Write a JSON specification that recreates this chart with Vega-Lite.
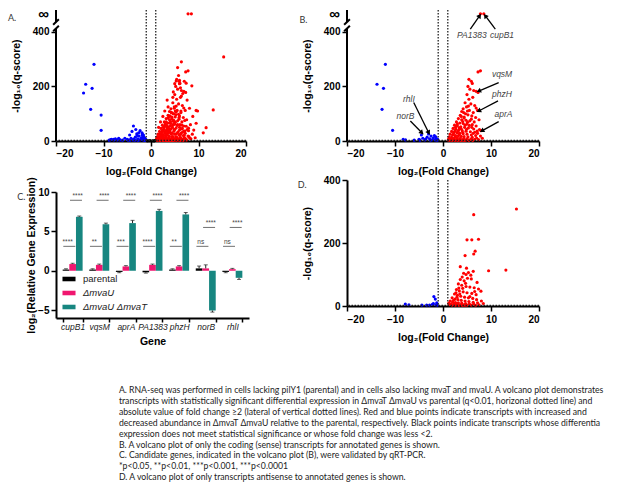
{
"$schema": "https://vega.github.io/schema/vega-lite/v6.json",
"padding": {"left": 7, "top": 6, "right": 0, "bottom": 0},
"config": {
  "view": {"stroke": null},
  "font": "Liberation Sans",
  "axis": {"domainColor": "#000", "domainWidth": 2, "tickColor": "#000", "tickWidth": 1.5, "tickSize": 5, "labelFont": "Liberation Sans", "labelFontWeight": "bold", "labelFontSize": 10, "labelColor": "#000", "titleFont": "Liberation Sans", "titleFontWeight": "bold", "titleFontSize": 10.5, "titleColor": "#000", "grid": false, "labelPadding": 2}
},
"datasets": {
  "volcano": [
    {"fc": 7.8, "q": 466, "t": "s"}, {"fc": 8.5, "q": 466, "t": "s"},
    {"fc": 7.8, "q": 257, "t": "s"}, {"fc": 7.3, "q": 253, "t": "s"}, {"fc": 5.4, "q": 226, "t": "s"}, {"fc": 5.9, "q": 219, "t": "s"}, {"fc": 6.1, "q": 211, "t": "s"}, {"fc": 5.2, "q": 200, "t": "s"}, {"fc": 5.6, "q": 190, "t": "s"}, {"fc": 6.4, "q": 185, "t": "s"}, {"fc": 6.9, "q": 182, "t": "s"}, {"fc": 7.3, "q": 178, "t": "s"}, {"fc": 5.0, "q": 170, "t": "s"}, {"fc": 5.4, "q": 153, "t": "s"}, {"fc": 6.2, "q": 160, "t": "s"}, {"fc": 6.6, "q": 130, "t": "s"}, {"fc": 6.9, "q": 121, "t": "s"}, {"fc": 7.2, "q": 112, "t": "s"}, {"fc": 4.6, "q": 140, "t": "s"}, {"fc": 5.8, "q": 136, "t": "s"}, {"fc": 4.9, "q": 125, "t": "s"}, {"fc": 4.2, "q": 118, "t": "s"}, {"fc": 5.5, "q": 112, "t": "s"}, {"fc": 6.3, "q": 104, "t": "s"}, {"fc": 3.9, "q": 108, "t": "s"}, {"fc": 4.7, "q": 100, "t": "s"}, {"fc": 5.2, "q": 96, "t": "s"}, {"fc": 3.6, "q": 94, "t": "s"}, {"fc": 4.4, "q": 88, "t": "s"}, {"fc": 6.0, "q": 92, "t": "s"}, {"fc": 6.8, "q": 86, "t": "s"}, {"fc": 7.5, "q": 78, "t": "s"}, {"fc": 3.2, "q": 82, "t": "s"}, {"fc": 3.9, "q": 78, "t": "s"}, {"fc": 4.8, "q": 76, "t": "s"}, {"fc": 5.6, "q": 74, "t": "s"}, {"fc": 2.8, "q": 70, "t": "s"}, {"fc": 3.5, "q": 66, "t": "s"}, {"fc": 4.2, "q": 64, "t": "s"}, {"fc": 5.0, "q": 62, "t": "s"}, {"fc": 6.1, "q": 60, "t": "s"}, {"fc": 6.9, "q": 55, "t": "s"}, {"fc": 2.4, "q": 58, "t": "s"}, {"fc": 3.0, "q": 55, "t": "s"}, {"fc": 3.7, "q": 52, "t": "s"}, {"fc": 4.5, "q": 50, "t": "s"}, {"fc": 5.3, "q": 48, "t": "s"}, {"fc": 6.4, "q": 44, "t": "s"}, {"fc": 7.6, "q": 42, "t": "s"}, {"fc": 7.9, "q": 38, "t": "s"}, {"fc": 2.1, "q": 46, "t": "s"}, {"fc": 2.7, "q": 43, "t": "s"}, {"fc": 3.3, "q": 40, "t": "s"}, {"fc": 4.0, "q": 38, "t": "s"}, {"fc": 4.8, "q": 36, "t": "s"}, {"fc": 5.7, "q": 34, "t": "s"}, {"fc": 6.6, "q": 32, "t": "s"}, {"fc": 7.2, "q": 28, "t": "s"}, {"fc": 1.8, "q": 35, "t": "s"}, {"fc": 2.3, "q": 32, "t": "s"}, {"fc": 2.9, "q": 30, "t": "s"}, {"fc": 3.5, "q": 28, "t": "s"}, {"fc": 4.2, "q": 27, "t": "s"}, {"fc": 5.0, "q": 25, "t": "s"}, {"fc": 5.9, "q": 22, "t": "s"}, {"fc": 6.8, "q": 20, "t": "s"}, {"fc": 7.8, "q": 18, "t": "s"}, {"fc": 1.5, "q": 25, "t": "s"}, {"fc": 2.0, "q": 22, "t": "s"}, {"fc": 2.6, "q": 20, "t": "s"}, {"fc": 3.2, "q": 19, "t": "s"}, {"fc": 3.8, "q": 17, "t": "s"}, {"fc": 4.4, "q": 16, "t": "s"}, {"fc": 5.2, "q": 15, "t": "s"}, {"fc": 6.1, "q": 13, "t": "s"}, {"fc": 7.0, "q": 11, "t": "s"}, {"fc": 8.2, "q": 10, "t": "s"}, {"fc": 1.3, "q": 15, "t": "s"}, {"fc": 1.8, "q": 13, "t": "s"}, {"fc": 2.4, "q": 12, "t": "s"}, {"fc": 3.0, "q": 11, "t": "s"}, {"fc": 3.6, "q": 10, "t": "s"}, {"fc": 4.3, "q": 9, "t": "s"}, {"fc": 5.0, "q": 8, "t": "s"}, {"fc": 5.8, "q": 7, "t": "s"}, {"fc": 6.6, "q": 6, "t": "s"}, {"fc": 7.4, "q": 5, "t": "s"}, {"fc": 1.2, "q": 8, "t": "s"}, {"fc": 1.6, "q": 6, "t": "s"}, {"fc": 2.2, "q": 5, "t": "s"}, {"fc": 2.8, "q": 4, "t": "s"}, {"fc": 3.4, "q": 4, "t": "s"}, {"fc": 4.0, "q": 3, "t": "s"}, {"fc": 4.7, "q": 3, "t": "s"}, {"fc": 5.4, "q": 2.5, "t": "s"}, {"fc": 6.2, "q": 2.5, "t": "s"}, {"fc": 1.4, "q": 3, "t": "s"}, {"fc": 1.9, "q": 2.5, "t": "s"}, {"fc": 2.5, "q": 2.5, "t": "s"}, {"fc": 3.1, "q": 2.5, "t": "s"}, {"fc": 3.7, "q": 2.5, "t": "s"}, {"fc": 4.4, "q": 2.5, "t": "s"}, {"fc": 1.1, "q": 4, "t": "s"}, {"fc": 2.0, "q": 9, "t": "s"}, {"fc": 2.6, "q": 16, "t": "s"}, {"fc": 3.4, "q": 24, "t": "s"}, {"fc": 4.1, "q": 31, "t": "s"}, {"fc": 4.9, "q": 43, "t": "s"}, {"fc": 5.5, "q": 57, "t": "s"}, {"fc": 2.2, "q": 27, "t": "s"}, {"fc": 3.1, "q": 35, "t": "s"}, {"fc": 3.8, "q": 45, "t": "s"}, {"fc": 4.6, "q": 58, "t": "s"}, {"fc": 5.1, "q": 69, "t": "s"}, {"fc": 5.9, "q": 80, "t": "s"}, {"fc": 2.5, "q": 38, "t": "s"}, {"fc": 3.4, "q": 48, "t": "s"}, {"fc": 4.1, "q": 71, "t": "s"}, {"fc": 4.4, "q": 84, "t": "s"}, {"fc": 3.0, "q": 62, "t": "s"}, {"fc": 5.3, "q": 128, "t": "s"}, {"fc": 4.3, "q": 104, "t": "s"}, {"fc": 5.1, "q": 110, "t": "s"}, {"fc": 6.5, "q": 70, "t": "s"}, {"fc": 6.0, "q": 50, "t": "s"}, {"fc": 6.3, "q": 28, "t": "s"}, {"fc": 7.1, "q": 36, "t": "s"}, {"fc": 3.8, "q": 90, "t": "s"}, {"fc": 2.6, "q": 50, "t": "s"},
    {"fc": -12.0, "q": 281, "t": "s"}, {"fc": -13.75, "q": 208, "t": "s"}, {"fc": -12.4, "q": 193, "t": "s"}, {"fc": -12.7, "q": 116, "t": "s"}, {"fc": -10.5, "q": 39, "t": "s"}, {"fc": -5.0, "q": 6, "t": "s"}, {"fc": -4.5, "q": 22, "t": "s"}, {"fc": -4.2, "q": 10, "t": "s"}, {"fc": -3.8, "q": 4, "t": "s"}, {"fc": -3.3, "q": 14, "t": "s"}, {"fc": -3.0, "q": 26, "t": "s"}, {"fc": -2.8, "q": 8, "t": "s"}, {"fc": -2.5, "q": 18, "t": "s"}, {"fc": -2.2, "q": 5, "t": "s"}, {"fc": -2.0, "q": 12, "t": "s"}, {"fc": -1.8, "q": 20, "t": "s"}, {"fc": -1.6, "q": 4, "t": "s"}, {"fc": -1.4, "q": 9, "t": "s"}, {"fc": -1.2, "q": 3, "t": "s"}, {"fc": -1.1, "q": 6, "t": "s"}, {"fc": -2.6, "q": 3, "t": "s"}, {"fc": -3.6, "q": 7, "t": "s"}, {"fc": -1.5, "q": 15, "t": "s"}, {"fc": -4.8, "q": 3, "t": "s"}, {"fc": -6.0, "q": 3, "t": "s"}, {"fc": -7.8, "q": 4, "t": "s"}, {"fc": -8.3, "q": 6, "t": "s"},
    {"fc": 15.3, "q": 308, "t": "a"}, {"fc": 6.4, "q": 290, "t": "a"}, {"fc": 5.0, "q": 210, "t": "a"}, {"fc": 6.0, "q": 210, "t": "a"}, {"fc": 7.4, "q": 212, "t": "a"}, {"fc": 6.7, "q": 174, "t": "a"}, {"fc": 6.4, "q": 165, "t": "a"}, {"fc": 4.6, "q": 160, "t": "a"}, {"fc": 9.5, "q": 112, "t": "a"}, {"fc": 13.1, "q": 114, "t": "a"}, {"fc": 3.6, "q": 125, "t": "a"}, {"fc": 4.3, "q": 104, "t": "a"}, {"fc": 4.8, "q": 100, "t": "a"}, {"fc": 5.3, "q": 106, "t": "a"}, {"fc": 5.8, "q": 98, "t": "a"}, {"fc": 6.3, "q": 110, "t": "a"}, {"fc": 4.0, "q": 92, "t": "a"}, {"fc": 5.1, "q": 88, "t": "a"}, {"fc": 5.9, "q": 86, "t": "a"}, {"fc": 7.1, "q": 75, "t": "a"}, {"fc": 4.4, "q": 80, "t": "a"}, {"fc": 3.2, "q": 70, "t": "a"}, {"fc": 3.9, "q": 66, "t": "a"}, {"fc": 4.8, "q": 62, "t": "a"}, {"fc": 5.6, "q": 60, "t": "a"}, {"fc": 6.5, "q": 58, "t": "a"}, {"fc": 7.4, "q": 54, "t": "a"}, {"fc": 7.9, "q": 47, "t": "a"}, {"fc": 2.8, "q": 52, "t": "a"}, {"fc": 3.4, "q": 48, "t": "a"}, {"fc": 4.2, "q": 45, "t": "a"}, {"fc": 5.0, "q": 42, "t": "a"}, {"fc": 6.0, "q": 40, "t": "a"}, {"fc": 6.9, "q": 36, "t": "a"}, {"fc": 2.4, "q": 38, "t": "a"}, {"fc": 3.0, "q": 34, "t": "a"}, {"fc": 3.7, "q": 31, "t": "a"}, {"fc": 4.5, "q": 28, "t": "a"}, {"fc": 5.3, "q": 26, "t": "a"}, {"fc": 6.2, "q": 24, "t": "a"}, {"fc": 7.0, "q": 20, "t": "a"}, {"fc": 8.0, "q": 16, "t": "a"}, {"fc": 1.9, "q": 26, "t": "a"}, {"fc": 2.5, "q": 22, "t": "a"}, {"fc": 3.1, "q": 20, "t": "a"}, {"fc": 3.8, "q": 18, "t": "a"}, {"fc": 4.6, "q": 16, "t": "a"}, {"fc": 5.4, "q": 14, "t": "a"}, {"fc": 6.3, "q": 12, "t": "a"}, {"fc": 7.2, "q": 10, "t": "a"}, {"fc": 8.4, "q": 8, "t": "a"}, {"fc": 1.5, "q": 16, "t": "a"}, {"fc": 2.0, "q": 13, "t": "a"}, {"fc": 2.6, "q": 11, "t": "a"}, {"fc": 3.2, "q": 10, "t": "a"}, {"fc": 3.9, "q": 9, "t": "a"}, {"fc": 4.7, "q": 8, "t": "a"}, {"fc": 5.5, "q": 7, "t": "a"}, {"fc": 6.4, "q": 6, "t": "a"}, {"fc": 7.5, "q": 4, "t": "a"}, {"fc": 1.2, "q": 9, "t": "a"}, {"fc": 1.7, "q": 7, "t": "a"}, {"fc": 2.3, "q": 6, "t": "a"}, {"fc": 2.9, "q": 5, "t": "a"}, {"fc": 3.5, "q": 4, "t": "a"}, {"fc": 4.2, "q": 3.5, "t": "a"}, {"fc": 5.0, "q": 3, "t": "a"}, {"fc": 5.9, "q": 3, "t": "a"}, {"fc": 6.8, "q": 2.5, "t": "a"}, {"fc": 1.3, "q": 4, "t": "a"}, {"fc": 1.9, "q": 3, "t": "a"}, {"fc": 2.6, "q": 2.5, "t": "a"}, {"fc": 3.3, "q": 2.5, "t": "a"}, {"fc": 4.0, "q": 2.5, "t": "a"}, {"fc": 4.6, "q": 2.5, "t": "a"}, {"fc": 2.2, "q": 18, "t": "a"}, {"fc": 2.9, "q": 28, "t": "a"}, {"fc": 3.5, "q": 38, "t": "a"}, {"fc": 4.1, "q": 56, "t": "a"}, {"fc": 3.3, "q": 57, "t": "a"}, {"fc": 4.7, "q": 72, "t": "a"}, {"fc": 2.7, "q": 42, "t": "a"}, {"fc": 5.6, "q": 30, "t": "a"}, {"fc": 6.6, "q": 46, "t": "a"}, {"fc": 3.6, "q": 84, "t": "a"}, {"fc": 4.9, "q": 120, "t": "a"},
    {"fc": -7.85, "q": 6, "t": "a"}, {"fc": -7.1, "q": 4, "t": "a"}, {"fc": -4.4, "q": 3, "t": "a"}, {"fc": -1.9, "q": 30, "t": "a"}, {"fc": -1.6, "q": 22, "t": "a"}, {"fc": -2.8, "q": 3, "t": "a"}, {"fc": -2.2, "q": 5, "t": "a"}, {"fc": -1.5, "q": 4, "t": "a"}, {"fc": -1.2, "q": 3, "t": "a"}, {"fc": -2.0, "q": 8, "t": "a"}, {"fc": -1.3, "q": 10, "t": "a"}, {"fc": -3.4, "q": 3, "t": "a"},
    {"fc": -14.2, "q": 176, "t": "o"}, {"fc": -10.5, "q": 95, "t": "o"}, {"fc": -8.5, "q": 5, "t": "o"}, {"fc": -7.5, "q": 8, "t": "o"}, {"fc": -6.5, "q": 4, "t": "o"}, {"fc": -5.5, "q": 10, "t": "o"}, {"fc": -3.7, "q": 55, "t": "o"}, {"fc": -4.0, "q": 35, "t": "o"}, {"fc": -3.2, "q": 42, "t": "o"}, {"fc": -2.6, "q": 30, "t": "o"}, {"fc": -2.3, "q": 38, "t": "o"}, {"fc": -2.9, "q": 20, "t": "o"}, {"fc": -1.8, "q": 25, "t": "o"}, {"fc": -6.8, "q": 10, "t": "o"}, {"fc": -8.8, "q": 3, "t": "o"},
    {"fc": 5.6, "q": 269, "t": "o"}, {"fc": 8.6, "q": 202, "t": "o"}, {"fc": 9.8, "q": 110, "t": "o"}, {"fc": 9.5, "q": 65, "t": "o"}, {"fc": 11.6, "q": 49, "t": "o"}, {"fc": 11.0, "q": 30, "t": "o"}, {"fc": 5.3, "q": 220, "t": "o"}, {"fc": 6.0, "q": 222, "t": "o"}, {"fc": 7.0, "q": 219, "t": "o"}, {"fc": 5.8, "q": 240, "t": "o"}, {"fc": 6.2, "q": 195, "t": "o"}, {"fc": 7.6, "q": 150, "t": "o"}, {"fc": 8.1, "q": 120, "t": "o"}, {"fc": 8.8, "q": 90, "t": "o"}, {"fc": 4.7, "q": 180, "t": "o"}, {"fc": 3.4, "q": 150, "t": "o"}, {"fc": 2.9, "q": 110, "t": "o"}, {"fc": 8.3, "q": 60, "t": "o"}, {"fc": 9.0, "q": 40, "t": "o"}, {"fc": 8.7, "q": 25, "t": "o"}, {"fc": 9.3, "q": 12, "t": "o"}, {"fc": 1.6, "q": 50, "t": "o"}, {"fc": 2.0, "q": 70, "t": "o"}, {"fc": 2.5, "q": 90, "t": "o"},
    {"fc": -0.5, "q": 1, "t": "o"}, {"fc": 0.3, "q": 0.8, "t": "o"}, {"fc": 0.6, "q": 0.3, "t": "o"}, {"fc": -0.2, "q": 1.2, "t": "o"}, {"fc": 0.8, "q": 1.5, "t": "o"}, {"fc": -0.8, "q": 0.5, "t": "o"}
  ],
  "brk": [
    {"fc": -20, "fc2": -20, "q": 0, "q2": 412},
    {"fc": -20, "fc2": -20, "q": 436, "q2": 480},
    {"fc": -20.6, "fc2": -19.4, "q": 402, "q2": 422},
    {"fc": -20.6, "fc2": -19.4, "q": 426, "q2": 446}
  ],
  "notes": [
    {"gene": "PA1383", "lx": 6.0, "ly": 389, "tx": 5.69, "ty": 410, "hx": 7.65, "hy": 459, "angle": 35},
    {"gene": "cupB1", "lx": 12.3, "ly": 389, "tx": 10.9, "ty": 410, "hx": 8.8, "hy": 459, "angle": 323},
    {"gene": "vqsM", "lx": 12.3, "ly": 246, "tx": 11.6, "ty": 214, "hx": 7.44, "hy": 183, "angle": 247},
    {"gene": "phzH", "lx": 12.3, "ly": 172, "tx": 11.46, "ty": 147, "hx": 7.44, "hy": 110, "angle": 243},
    {"gene": "aprA", "lx": 12.6, "ly": 99, "tx": 11.6, "ty": 71, "hx": 8.1, "hy": 37, "angle": 241},
    {"gene": "rhlI", "lx": -7.1, "ly": 153, "tx": -6.1, "ty": 141, "hx": -2.98, "hy": 30, "angle": 153},
    {"gene": "norB", "lx": -7.8, "ly": 92, "tx": -6.8, "ty": 73, "hx": -4.4, "hy": 30, "angle": 135}
  ],
  "genes": [
    {"gene": "cupB1", "group": "parental", "value": 0.15, "tip": 0.25}, {"gene": "cupB1", "group": "ΔmvaU", "value": 0.85, "tip": 0.95}, {"gene": "cupB1", "group": "ΔmvaU ΔmvaT", "value": 6.85, "tip": 6.95},
    {"gene": "vqsM", "group": "parental", "value": 0.15, "tip": 0.25}, {"gene": "vqsM", "group": "ΔmvaU", "value": 0.75, "tip": 0.85}, {"gene": "vqsM", "group": "ΔmvaU ΔmvaT", "value": 5.9, "tip": 6.05},
    {"gene": "aprA", "group": "parental", "value": -0.15, "tip": -0.25}, {"gene": "aprA", "group": "ΔmvaU", "value": 0.55, "tip": 0.65}, {"gene": "aprA", "group": "ΔmvaU ΔmvaT", "value": 6.05, "tip": 6.4},
    {"gene": "PA1383", "group": "parental", "value": -0.2, "tip": -0.3}, {"gene": "PA1383", "group": "ΔmvaU", "value": 0.75, "tip": 0.85}, {"gene": "PA1383", "group": "ΔmvaU ΔmvaT", "value": 7.6, "tip": 7.8},
    {"gene": "phzH", "group": "parental", "value": 0.15, "tip": 0.25}, {"gene": "phzH", "group": "ΔmvaU", "value": 0.55, "tip": 0.65}, {"gene": "phzH", "group": "ΔmvaU ΔmvaT", "value": 7.15, "tip": 7.4},
    {"gene": "norB", "group": "parental", "value": 0.3, "tip": 0.6}, {"gene": "norB", "group": "ΔmvaU", "value": 0.3, "tip": 0.75}, {"gene": "norB", "group": "ΔmvaU ΔmvaT", "value": -5.05, "tip": -5.25},
    {"gene": "rhlI", "group": "parental", "value": -0.15, "tip": -0.25}, {"gene": "rhlI", "group": "ΔmvaU", "value": 0.2, "tip": 0.3}, {"gene": "rhlI", "group": "ΔmvaU ΔmvaT", "value": -0.9, "tip": -1.1}
  ],
  "sig": [
    {"gene": "cupB1", "side": "L", "y": 3.1, "label": "****"}, {"gene": "cupB1", "side": "R", "y": 8.95, "label": "****"},
    {"gene": "vqsM", "side": "L", "y": 3.1, "label": "**"}, {"gene": "vqsM", "side": "R", "y": 8.95, "label": "****"},
    {"gene": "aprA", "side": "L", "y": 3.1, "label": "***"}, {"gene": "aprA", "side": "R", "y": 8.95, "label": "****"},
    {"gene": "PA1383", "side": "L", "y": 3.1, "label": "****"}, {"gene": "PA1383", "side": "R", "y": 8.95, "label": "****"},
    {"gene": "phzH", "side": "L", "y": 3.1, "label": "**"}, {"gene": "phzH", "side": "R", "y": 8.95, "label": "****"},
    {"gene": "norB", "side": "L", "y": 3.1, "label": "ns"}, {"gene": "norB", "side": "R", "y": 5.5, "label": "****"},
    {"gene": "rhlI", "side": "L", "y": 3.1, "label": "ns"}, {"gene": "rhlI", "side": "R", "y": 5.5, "label": "****"}
  ]
},
"title": {
  "text": [
    "A. RNA-seq was performed in cells lacking pilY1 (parental) and in cells also lacking mvaT and mvaU. A volcano plot demonstrates",
    "transcripts with statistically significant differential expression in ΔmvaT ΔmvaU vs parental (q<0.01, horizonal dotted line) and",
    "absolute value of fold change ≥2 (lateral of vertical dotted lines). Red and blue points indicate transcripts with increased and",
    "decreased abundance in ΔmvaT ΔmvaU relative to the parental, respectively. Black points indicate transcripts whose differentia",
    "expression does not meet statistical significance or whose fold change was less <2.",
    "B. A volcano plot of only the coding (sense) transcripts for annotated genes is shown.",
    "C. Candidate genes, indicated in the volcano plot (B), were validated by qRT-PCR.",
    "*p<0.05, **p<0.01, ***p<0.001, ***p<0.0001",
    "D. A volcano plot of only transcripts antisense to annotated genes is shown."
  ],
  "orient": "bottom", "anchor": "start", "dx": 111, "offset": 39,
  "font": "Lato", "fontSize": 8.7, "fontWeight": "normal", "lineHeight": 10.9, "color": "#222"
},
"resolve": {"scale": {"color": "independent"}, "legend": {"color": "independent"}},
"spacing": 48,
"hconcat": [
  {
    "spacing": -1,
    "resolve": {"scale": {"color": "independent"}, "legend": {"color": "independent"}},
    "vconcat": [
      {
        "width": 190, "height": 131,
        "title": {"text": "A.", "orient": "left", "frame": "group", "angle": 0, "anchor": "end", "align": "right", "baseline": "top", "offset": -13, "dy": 4, "fontSize": 9, "font": "Lato", "fontWeight": "normal", "color": "#333"},
        "layer": [
          {"data": {"name": "volcano"}, "mark": {"type": "circle", "size": 10, "opacity": 1},
           "encoding": {
             "x": {"field": "fc", "type": "quantitative", "title": "log₂(Fold Change)", "scale": {"domain": [-20, 20], "nice": false, "zero": false}, "axis": {"values": [-20, -10, 0, 10, 20], "titlePadding": 8}},
             "y": {"field": "q", "type": "quantitative", "title": "-log₁₀(q-score)", "scale": {"domain": [0, 480], "nice": false}, "axis": {"values": [0, 100, 200, 300, 400, 466], "labelExpr": "datum.value == 466 ? '' : datum.label", "domain": false, "titlePadding": 11}},
             "color": {"condition": [{"test": "datum.fc >= 1", "value": "#FF0000"}, {"test": "datum.fc <= -1", "value": "#0000FF"}], "value": "#000000"}
           }},
          {"data": {"values": [{"fc": -1}, {"fc": 1}]}, "mark": {"type": "rule", "strokeDash": [1.5, 1.5], "strokeWidth": 1.3, "color": "#222"}, "encoding": {"x": {"field": "fc", "type": "quantitative", "title": "log₂(Fold Change)"}}},
          {"data": {"values": [{"q": 2}]}, "mark": {"type": "rule", "strokeDash": [1.5, 1.5], "strokeWidth": 1.3, "color": "#222"}, "encoding": {"y": {"field": "q", "type": "quantitative", "title": "-log₁₀(q-score)"}}},
          {"data": {"name": "brk"}, "mark": {"type": "rule", "strokeWidth": 2, "color": "#000"}, "encoding": {"x": {"field": "fc", "type": "quantitative", "title": "log₂(Fold Change)"}, "x2": {"field": "fc2"}, "y": {"field": "q", "type": "quantitative", "title": "-log₁₀(q-score)"}, "y2": {"field": "q2"}}},
          {"data": {"values": [{}]}, "mark": {"type": "text", "text": "∞", "font": "Liberation Sans", "fontSize": 15, "fontWeight": "bold", "color": "#000", "align": "right", "baseline": "middle", "dx": -7}, "encoding": {"x": {"datum": -20, "type": "quantitative"}, "y": {"datum": 466, "type": "quantitative"}}}
        ]
      },
      {
        "width": 193, "height": 126,
        "title": {"text": "C.", "orient": "left", "frame": "group", "angle": 0, "anchor": "end", "align": "right", "baseline": "top", "offset": -7, "dy": 1, "fontSize": 9, "font": "Lato", "fontWeight": "normal", "color": "#333"},
        "resolve": {"scale": {"xOffset": "independent"}},
        "layer": [
          {"data": {"name": "genes"}, "mark": {"type": "bar"},
           "encoding": {
             "x": {"field": "gene", "type": "nominal", "title": "Gene", "sort": ["cupB1", "vqsM", "aprA", "PA1383", "phzH", "norB", "rhlI"], "scale": {"paddingInner": 0.25, "paddingOuter": 0.25}, "axis": {"labelAngle": 0, "labelFontStyle": "italic", "labelFontWeight": "normal", "labelFontSize": 8.5, "labelColor": "#222", "tickBand": "extent", "tickSize": 4, "labelPadding": 0, "titlePadding": 6}},
             "xOffset": {"field": "group", "type": "nominal", "sort": ["parental", "ΔmvaU", "ΔmvaU ΔmvaT"], "scale": {"paddingInner": 0, "paddingOuter": 0}},
             "y": {"field": "value", "type": "quantitative", "title": "log₂(Relative Gene Expression)", "scale": {"domain": [-6, 10], "nice": false}, "axis": {"values": [-5, 0, 5, 10], "titlePadding": 1}},
             "color": {"field": "group", "type": "nominal", "scale": {"domain": ["parental", "ΔmvaU", "ΔmvaU ΔmvaT"], "range": ["#000000", "#F0166F", "#178680"]},
               "legend": {"title": null, "orient": "bottom-left", "offset": 6, "symbolType": "M-1,-0.35H1V0.35H-1Z", "symbolSize": 170, "symbolStrokeWidth": 0, "labelFont": "Liberation Sans", "labelFontSize": 9.5, "labelColor": "#222", "rowPadding": 2, "labelOffset": 7,
                 "encode": {"labels": {"update": {"fontStyle": {"signal": "datum.value == 'parental' ? 'normal' : 'italic'"}}}}}}
           }},
          {"data": {"name": "genes"}, "mark": {"type": "rule", "color": "#222", "strokeWidth": 1},
           "encoding": {"x": {"field": "gene", "type": "nominal", "title": "Gene", "sort": ["cupB1", "vqsM", "aprA", "PA1383", "phzH", "norB", "rhlI"]}, "xOffset": {"field": "group", "type": "nominal", "sort": ["parental", "ΔmvaU", "ΔmvaU ΔmvaT"]}, "y": {"field": "value", "type": "quantitative", "title": "log₂(Relative Gene Expression)"}, "y2": {"field": "tip"}}},
          {"data": {"name": "genes"}, "mark": {"type": "tick", "orient": "horizontal", "color": "#222", "size": 4, "thickness": 1},
           "encoding": {"x": {"field": "gene", "type": "nominal", "title": "Gene", "sort": ["cupB1", "vqsM", "aprA", "PA1383", "phzH", "norB", "rhlI"]}, "xOffset": {"field": "group", "type": "nominal", "sort": ["parental", "ΔmvaU", "ΔmvaU ΔmvaT"]}, "y": {"field": "tip", "type": "quantitative", "title": "log₂(Relative Gene Expression)"}}},
          {"data": {"name": "sig"}, "mark": {"type": "tick", "orient": "horizontal", "color": "#333", "size": 12, "thickness": 1},
           "encoding": {"x": {"field": "gene", "type": "nominal", "title": "Gene", "sort": ["cupB1", "vqsM", "aprA", "PA1383", "phzH", "norB", "rhlI"]}, "xOffset": {"field": "side", "type": "nominal", "sort": ["L", "R"], "scale": {"paddingInner": 0, "paddingOuter": 0.5}}, "y": {"field": "y", "type": "quantitative", "title": "log₂(Relative Gene Expression)"}}},
          {"data": {"name": "sig"}, "mark": {"type": "text", "color": "#444", "fontSize": 6.5, "baseline": "bottom", "dy": -1},
           "encoding": {"x": {"field": "gene", "type": "nominal", "title": "Gene", "sort": ["cupB1", "vqsM", "aprA", "PA1383", "phzH", "norB", "rhlI"]}, "xOffset": {"field": "side", "type": "nominal", "sort": ["L", "R"]}, "y": {"field": "y", "type": "quantitative", "title": "log₂(Relative Gene Expression)"}, "text": {"field": "label"}}}
        ]
      }
    ]
  },
  {
    "spacing": -2,
    "vconcat": [
      {
        "width": 192, "height": 131,
        "title": {"text": "B.", "orient": "left", "frame": "group", "angle": 0, "anchor": "end", "align": "right", "baseline": "top", "offset": -13, "dy": 6, "fontSize": 9, "font": "Lato", "fontWeight": "normal", "color": "#333"},
        "layer": [
          {"data": {"name": "volcano"}, "transform": [{"filter": "datum.t == 's'"}], "mark": {"type": "circle", "size": 10, "opacity": 1},
           "encoding": {
             "x": {"field": "fc", "type": "quantitative", "title": "log₂(Fold Change)", "scale": {"domain": [-20, 20], "nice": false, "zero": false}, "axis": {"values": [-20, -10, 0, 10, 20], "titlePadding": 8}},
             "y": {"field": "q", "type": "quantitative", "title": "-log₁₀(q-score)", "scale": {"domain": [0, 480], "nice": false}, "axis": {"values": [0, 100, 200, 300, 400, 466], "labelExpr": "datum.value == 466 ? '' : datum.label", "domain": false, "titlePadding": 11}},
             "color": {"condition": [{"test": "datum.fc >= 1", "value": "#FF0000"}, {"test": "datum.fc <= -1", "value": "#0000FF"}], "value": "#000000"}
           }},
          {"data": {"values": [{"fc": -1}, {"fc": 1}]}, "mark": {"type": "rule", "strokeDash": [1.5, 1.5], "strokeWidth": 1.3, "color": "#222"}, "encoding": {"x": {"field": "fc", "type": "quantitative", "title": "log₂(Fold Change)"}}},
          {"data": {"values": [{"q": 2}]}, "mark": {"type": "rule", "strokeDash": [1.5, 1.5], "strokeWidth": 1.3, "color": "#222"}, "encoding": {"y": {"field": "q", "type": "quantitative", "title": "-log₁₀(q-score)"}}},
          {"data": {"name": "brk"}, "mark": {"type": "rule", "strokeWidth": 2, "color": "#000"}, "encoding": {"x": {"field": "fc", "type": "quantitative", "title": "log₂(Fold Change)"}, "x2": {"field": "fc2"}, "y": {"field": "q", "type": "quantitative", "title": "-log₁₀(q-score)"}, "y2": {"field": "q2"}}},
          {"data": {"values": [{}]}, "mark": {"type": "text", "text": "∞", "font": "Liberation Sans", "fontSize": 15, "fontWeight": "bold", "color": "#000", "align": "right", "baseline": "middle", "dx": -7}, "encoding": {"x": {"datum": -20, "type": "quantitative"}, "y": {"datum": 466, "type": "quantitative"}}},
          {"data": {"name": "notes"}, "mark": {"type": "rule", "color": "#000", "strokeWidth": 1.3}, "encoding": {"x": {"field": "tx", "type": "quantitative", "title": "log₂(Fold Change)"}, "y": {"field": "ty", "type": "quantitative", "title": "-log₁₀(q-score)"}, "x2": {"field": "hx"}, "y2": {"field": "hy"}}},
          {"data": {"name": "notes"}, "mark": {"type": "point", "shape": "triangle-up", "filled": true, "color": "#000", "size": 28, "opacity": 1}, "encoding": {"x": {"field": "hx", "type": "quantitative", "title": "log₂(Fold Change)"}, "y": {"field": "hy", "type": "quantitative", "title": "-log₁₀(q-score)"}, "angle": {"field": "angle", "type": "quantitative", "scale": null}}},
          {"data": {"name": "notes"}, "mark": {"type": "text", "fontStyle": "italic", "fontSize": 8.5, "color": "#444", "font": "Liberation Sans"}, "encoding": {"x": {"field": "lx", "type": "quantitative", "title": "log₂(Fold Change)"}, "y": {"field": "ly", "type": "quantitative", "title": "-log₁₀(q-score)"}, "text": {"field": "gene"}}}
        ]
      },
      {
        "width": 192, "height": 126,
        "title": {"text": "D.", "orient": "left", "frame": "group", "angle": 0, "anchor": "end", "align": "right", "baseline": "top", "offset": -13, "dy": 1, "fontSize": 9, "font": "Lato", "fontWeight": "normal", "color": "#333"},
        "layer": [
          {"data": {"name": "volcano"}, "transform": [{"filter": "datum.t == 'a'"}], "mark": {"type": "circle", "size": 10, "opacity": 1},
           "encoding": {
             "x": {"field": "fc", "type": "quantitative", "title": "log₂(Fold Change)", "scale": {"domain": [-20, 20], "nice": false, "zero": false}, "axis": {"values": [-20, -10, 0, 10, 20], "labelPadding": 3, "titlePadding": 8}},
             "y": {"field": "q", "type": "quantitative", "title": "-log₁₀(q-score)", "scale": {"domain": [0, 400], "nice": false}, "axis": {"values": [0, 100, 200, 300, 400], "titlePadding": 11}},
             "color": {"condition": [{"test": "datum.fc >= 1", "value": "#FF0000"}, {"test": "datum.fc <= -1", "value": "#0000FF"}], "value": "#000000"}
           }},
          {"data": {"values": [{"fc": -1}, {"fc": 1}]}, "mark": {"type": "rule", "strokeDash": [1.5, 1.5], "strokeWidth": 1.3, "color": "#222"}, "encoding": {"x": {"field": "fc", "type": "quantitative", "title": "log₂(Fold Change)"}}},
          {"data": {"values": [{"q": 2}]}, "mark": {"type": "rule", "strokeDash": [1.5, 1.5], "strokeWidth": 1.3, "color": "#222"}, "encoding": {"y": {"field": "q", "type": "quantitative", "title": "-log₁₀(q-score)"}}}
        ]
      }
    ]
  }
]
}
